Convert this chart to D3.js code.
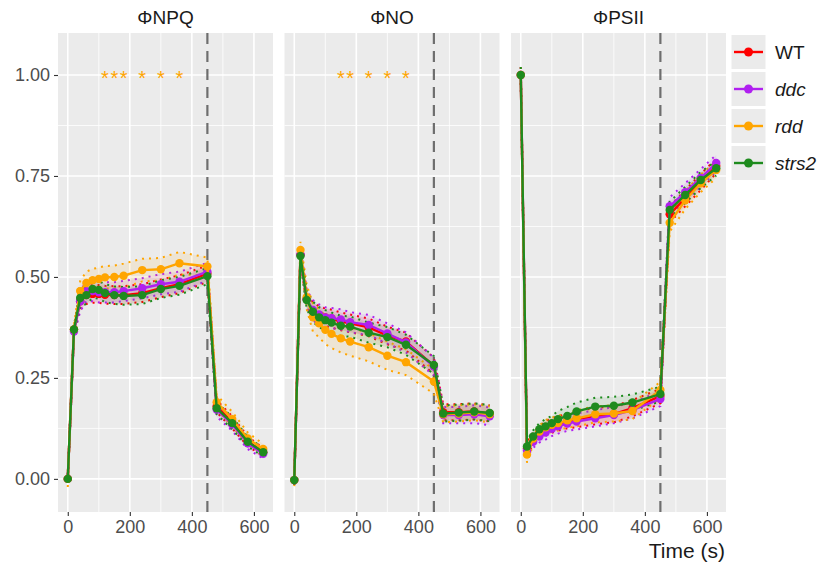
<!DOCTYPE html>
<html>
<head>
<meta charset="utf-8">
<script src="https://cdn.jsdelivr.net/npm/d3@7"></script>
<style>
  body { margin: 0; background: #fff; }
  svg { font-family: "Liberation Sans", Arial, sans-serif; }
</style>
</head>
<body>
<svg id="chart" width="827" height="569"></svg>
<script>
// time points (s)
var times = [0, 20, 40, 60, 80, 100, 120, 150, 180, 240, 300, 360, 450, 480, 530, 580, 630];

var genotypes = ["WT", "ddc", "rdd", "strs2"];
var colors = ["#FF0000", "#B020F0", "#FFA500", "#1E8B1E"];

var panelNames = ["\u03A6NPQ", "\u03A6NO", "\u03A6PSII"];

// ΦNPQ means
var npqWT    = [0, 0.37, 0.44, 0.455, 0.458, 0.458, 0.456, 0.455, 0.455, 0.46, 0.472, 0.482, 0.508, 0.18, 0.14, 0.093, 0.066];
var npqDdc   = [0, 0.365, 0.44, 0.465, 0.465, 0.462, 0.462, 0.462, 0.465, 0.472, 0.482, 0.488, 0.513, 0.172, 0.135, 0.088, 0.062];
var npqRdd   = [0, 0.37, 0.465, 0.485, 0.492, 0.495, 0.499, 0.5, 0.503, 0.517, 0.519, 0.534, 0.526, 0.19, 0.148, 0.1, 0.074];
var npqStrs2 = [0, 0.37, 0.448, 0.455, 0.47, 0.468, 0.46, 0.455, 0.453, 0.455, 0.47, 0.478, 0.502, 0.175, 0.138, 0.092, 0.066];
// ΦNPQ standard errors
var npqSeWT    = [0.01, 0.01, 0.02, 0.022, 0.022, 0.022, 0.022, 0.022, 0.022, 0.022, 0.022, 0.022, 0.02, 0.015, 0.015, 0.012, 0.01];
var npqSeDdc   = [0.01, 0.01, 0.025, 0.025, 0.025, 0.025, 0.025, 0.025, 0.025, 0.025, 0.025, 0.025, 0.022, 0.018, 0.016, 0.014, 0.012];
var npqSeRdd   = [0.02, 0.012, 0.025, 0.028, 0.028, 0.028, 0.028, 0.028, 0.03, 0.028, 0.028, 0.028, 0.022, 0.018, 0.018, 0.015, 0.012];
var npqSeStrs2 = [0.01, 0.01, 0.02, 0.022, 0.022, 0.022, 0.022, 0.022, 0.022, 0.022, 0.022, 0.022, 0.02, 0.015, 0.015, 0.012, 0.01];

// ΦNO means
var noWT    = [-0.003, 0.555, 0.445, 0.415, 0.405, 0.4, 0.397, 0.39, 0.385, 0.375, 0.355, 0.34, 0.28, 0.165, 0.165, 0.167, 0.162];
var noDdc   = [-0.003, 0.555, 0.445, 0.418, 0.407, 0.4, 0.398, 0.395, 0.388, 0.381, 0.36, 0.338, 0.278, 0.158, 0.158, 0.16, 0.155];
var noRdd   = [-0.003, 0.567, 0.45, 0.4, 0.385, 0.369, 0.359, 0.348, 0.34, 0.326, 0.305, 0.289, 0.241, 0.16, 0.162, 0.165, 0.16];
var noStrs2 = [-0.003, 0.552, 0.443, 0.414, 0.4, 0.393, 0.387, 0.379, 0.377, 0.362, 0.351, 0.332, 0.282, 0.162, 0.164, 0.167, 0.163];
var noSeWT    = [0.012, 0.015, 0.02, 0.022, 0.022, 0.022, 0.022, 0.022, 0.022, 0.022, 0.022, 0.022, 0.02, 0.02, 0.02, 0.02, 0.02];
var noSeDdc   = [0.012, 0.015, 0.022, 0.025, 0.025, 0.025, 0.025, 0.025, 0.025, 0.025, 0.025, 0.025, 0.022, 0.02, 0.02, 0.022, 0.022];
var noSeRdd   = [0.015, 0.02, 0.03, 0.035, 0.035, 0.035, 0.035, 0.035, 0.035, 0.035, 0.035, 0.032, 0.03, 0.02, 0.02, 0.02, 0.02];
var noSeStrs2 = [0.012, 0.015, 0.022, 0.025, 0.025, 0.025, 0.025, 0.025, 0.025, 0.025, 0.025, 0.025, 0.022, 0.02, 0.02, 0.02, 0.02];

// ΦPSII means
var psWT    = [1.0, 0.075, 0.1, 0.115, 0.125, 0.132, 0.137, 0.143, 0.148, 0.155, 0.16, 0.175, 0.205, 0.655, 0.695, 0.735, 0.775];
var psDdc   = [1.0, 0.07, 0.092, 0.105, 0.115, 0.124, 0.13, 0.137, 0.142, 0.15, 0.158, 0.17, 0.198, 0.675, 0.71, 0.745, 0.782];
var psRdd   = [1.0, 0.06, 0.1, 0.117, 0.128, 0.134, 0.138, 0.145, 0.15, 0.16, 0.162, 0.168, 0.22, 0.634, 0.69, 0.732, 0.765];
var psStrs2 = [1.0, 0.08, 0.105, 0.123, 0.13, 0.138, 0.148, 0.156, 0.167, 0.179, 0.181, 0.189, 0.21, 0.666, 0.703, 0.74, 0.769];
var psSeWT    = [0.02, 0.015, 0.015, 0.015, 0.018, 0.018, 0.018, 0.018, 0.02, 0.02, 0.02, 0.02, 0.018, 0.02, 0.02, 0.02, 0.018];
var psSeDdc   = [0.02, 0.015, 0.015, 0.015, 0.018, 0.018, 0.018, 0.018, 0.02, 0.02, 0.02, 0.02, 0.018, 0.022, 0.022, 0.022, 0.02];
var psSeRdd   = [0.02, 0.02, 0.015, 0.015, 0.018, 0.018, 0.018, 0.018, 0.02, 0.02, 0.02, 0.02, 0.02, 0.022, 0.022, 0.022, 0.02];
var psSeStrs2 = [0.02, 0.015, 0.015, 0.015, 0.018, 0.018, 0.02, 0.022, 0.022, 0.022, 0.022, 0.02, 0.018, 0.02, 0.02, 0.02, 0.018];

// significance stars (rdd) per panel
var starsNPQ = [120, 150, 180, 240, 300, 360];
var starsNO = [150, 180, 240, 300, 360];

var xTicks = [0, 200, 400, 600];
var yTicks = [0, 0.25, 0.5, 0.75, 1.0];
var lightOff = 450;

var panels = [
  { name: panelNames[0], means: [npqWT, npqDdc, npqRdd, npqStrs2], ses: [npqSeWT, npqSeDdc, npqSeRdd, npqSeStrs2], stars: starsNPQ },
  { name: panelNames[1], means: [noWT, noDdc, noRdd, noStrs2], ses: [noSeWT, noSeDdc, noSeRdd, noSeStrs2], stars: starsNO },
  { name: panelNames[2], means: [psWT, psDdc, psRdd, psStrs2], ses: [psSeWT, psSeDdc, psSeRdd, psSeStrs2], stars: [] }
];

var svg = d3.select("#chart");

var plotTop = 33, plotBottom = 512, panelW = 215, panelLefts = [58, 284.5, 511];

var y = d3.scaleLinear().domain([-0.082, 1.104]).range([plotBottom, plotTop]);

panels.forEach(function (p, pi) {
  var left = panelLefts[pi];
  var x = d3.scaleLinear().domain([-31.5, 661.5]).range([left, left + panelW]);
  var g = svg.append("g");

  // background
  g.append("rect").attr("x", left).attr("y", plotTop)
    .attr("width", panelW).attr("height", plotBottom - plotTop).attr("fill", "#EBEBEB");

  // minor grid
  [100, 300, 500].forEach(function (t) {
    g.append("line").attr("x1", x(t)).attr("x2", x(t)).attr("y1", plotTop).attr("y2", plotBottom)
      .attr("stroke", "#fff").attr("stroke-width", 0.8);
  });
  [0.125, 0.375, 0.625, 0.875].forEach(function (v) {
    g.append("line").attr("x1", left).attr("x2", left + panelW).attr("y1", y(v)).attr("y2", y(v))
      .attr("stroke", "#fff").attr("stroke-width", 0.8);
  });
  // major grid
  xTicks.forEach(function (t) {
    g.append("line").attr("x1", x(t)).attr("x2", x(t)).attr("y1", plotTop).attr("y2", plotBottom)
      .attr("stroke", "#fff").attr("stroke-width", 1.6);
  });
  yTicks.forEach(function (v) {
    g.append("line").attr("x1", left).attr("x2", left + panelW).attr("y1", y(v)).attr("y2", y(v))
      .attr("stroke", "#fff").attr("stroke-width", 1.6);
  });

  // dashed line at light off
  g.append("line").attr("x1", x(lightOff)).attr("x2", x(lightOff)).attr("y1", plotTop).attr("y2", plotBottom)
    .attr("stroke", "#6E6E6E").attr("stroke-width", 2.2).attr("stroke-dasharray", "11,7");

  // x axis
  var xAxis = d3.axisBottom(x).tickValues(xTicks).tickSize(4).tickPadding(4).tickFormat(d3.format("d"));
  var xa = g.append("g").attr("transform", "translate(0," + plotBottom + ")").call(xAxis);
  xa.select(".domain").remove();
  xa.selectAll("line").attr("stroke", "#333").attr("stroke-width", 1.1);
  xa.selectAll("text").attr("fill", "#4D4D4D").style("font-size", "18px");

  if (pi === 0) {
    var yAxis = d3.axisLeft(y).tickValues(yTicks).tickSize(4).tickPadding(4).tickFormat(d3.format(".2f"));
    var ya = g.append("g").attr("transform", "translate(" + left + ",0)").call(yAxis);
    ya.select(".domain").remove();
    ya.selectAll("line").attr("stroke", "#333").attr("stroke-width", 1.1);
    ya.selectAll("text").attr("fill", "#4D4D4D").style("font-size", "18px");
  }

  // panel title
  g.append("text").attr("x", left + panelW / 2).attr("y", 24).attr("text-anchor", "middle")
    .style("font-size", "19px").attr("fill", "#1A1A1A").text(p.name);

  var clip = "clip" + pi;
  svg.append("clipPath").attr("id", clip).append("rect")
    .attr("x", left).attr("y", plotTop).attr("width", panelW).attr("height", plotBottom - plotTop);
  var dg = g.append("g").attr("clip-path", "url(#" + clip + ")");

  genotypes.forEach(function (gn, gi) {
    var m = p.means[gi], se = p.ses[gi], col = colors[gi];
    var pts = times.map(function (t, i) { return { t: t, v: m[i], lo: m[i] - se[i], hi: m[i] + se[i] }; });

    var area = d3.area().x(function (d) { return x(d.t); })
      .y0(function (d) { return y(d.lo); }).y1(function (d) { return y(d.hi); });
    dg.append("path").datum(pts).attr("d", area).attr("fill", col).attr("fill-opacity", 0.1);

    ["lo", "hi"].forEach(function (k) {
      var ln = d3.line().x(function (d) { return x(d.t); }).y(function (d) { return y(d[k]); });
      dg.append("path").datum(pts).attr("d", ln).attr("fill", "none").attr("stroke", col)
        .attr("stroke-width", 2).attr("stroke-dasharray", "2,5");
    });
  });

  genotypes.forEach(function (gn, gi) {
    var m = p.means[gi], col = colors[gi];
    var pts = times.map(function (t, i) { return { t: t, v: m[i] }; });
    var line = d3.line().x(function (d) { return x(d.t); }).y(function (d) { return y(d.v); });
    dg.append("path").datum(pts).attr("d", line).attr("fill", "none").attr("stroke", col).attr("stroke-width", 2.4);
    dg.selectAll(null).data(pts).enter().append("circle")
      .attr("cx", function (d) { return x(d.t); }).attr("cy", function (d) { return y(d.v); })
      .attr("r", 4.2).attr("fill", col);
  });

  // stars
  p.stars.forEach(function (t) {
    g.append("text").attr("x", x(t)).attr("y", y(1.0) + 10).attr("text-anchor", "middle")
      .attr("fill", "#FFA500").style("font-size", "20px").text("*");
  });
});

// x title
svg.append("text").attr("x", 725).attr("y", 558).attr("text-anchor", "end")
  .style("font-size", "21px").attr("fill", "#1A1A1A").text("Time (s)");

// legend
var lg = svg.append("g");
genotypes.forEach(function (gn, gi) {
  var cy = 52 + gi * 37;
  lg.append("rect").attr("x", 731).attr("y", cy - 17.5).attr("width", 35).attr("height", 35)
    .attr("fill", "#EBEBEB").attr("stroke", "#fff").attr("stroke-width", 1);
  lg.append("line").attr("x1", 734).attr("x2", 763).attr("y1", cy).attr("y2", cy)
    .attr("stroke", colors[gi]).attr("stroke-width", 2.4);
  lg.append("circle").attr("cx", 748.5).attr("cy", cy).attr("r", 4.5).attr("fill", colors[gi]);
  lg.append("text").attr("x", 775).attr("y", cy + 7).style("font-size", "19px")
    .style("font-style", gi === 0 ? "normal" : "italic").attr("fill", "#1A1A1A").text(gn);
});
</script>
</body>
</html>
